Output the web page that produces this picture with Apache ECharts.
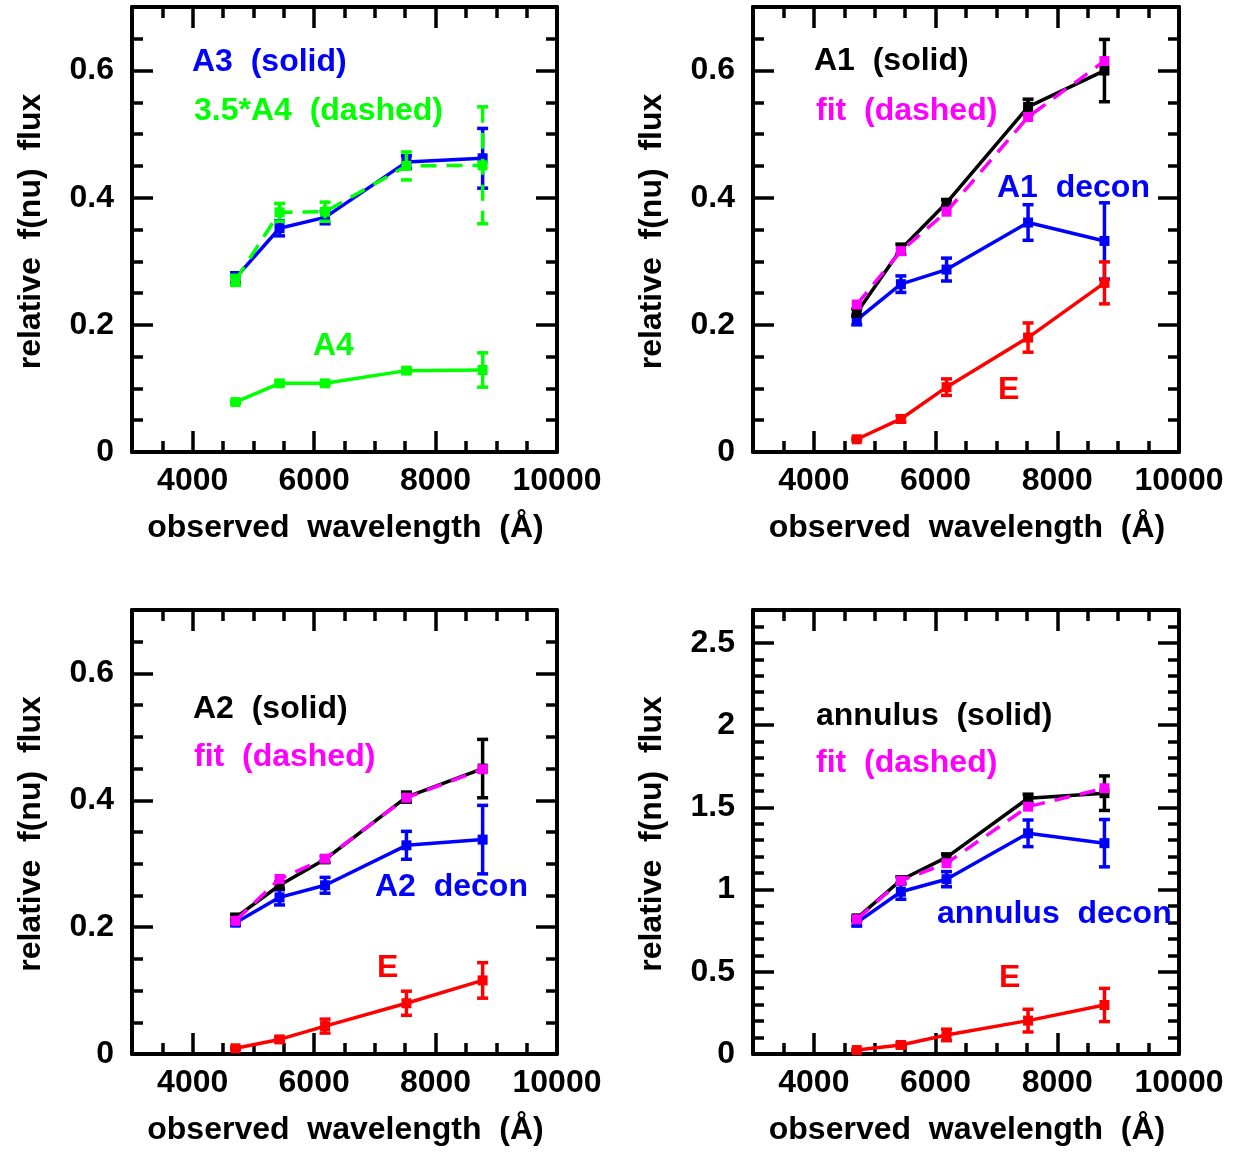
<!DOCTYPE html>
<html>
<head>
<meta charset="utf-8">
<script src="https://cdn.jsdelivr.net/npm/echarts@6/dist/echarts.min.js"></script>
<style>html,body{margin:0;padding:0;background:#fff;}#c{width:1241px;height:1152px;}</style>
</head>
<body>
<div id="c"></div>
<script>
// ---- data ----
const wavelengths = [4705, 5430, 6180, 7520, 8775];
const xTickLabels = [4000, 6000, 8000, 10000];
const yTickLabelsFlux = [0, 0.2, 0.4, 0.6];
const yTickLabelsAnnulus = [0, 0.5, 1, 1.5, 2, 2.5];

// panel 1
const a3 = [0.274, 0.352, 0.369, 0.456, 0.462];
const a3Err = [0.008, 0.012, 0.010, 0.010, 0.047];
const a4x35 = [0.270, 0.377, 0.378, 0.450, 0.451];
const a4x35Err = [0.008, 0.014, 0.015, 0.022, 0.092];
const a4 = [0.0785, 0.108, 0.108, 0.128, 0.129];
const a4Err = [0.002, 0.003, 0.003, 0.004, 0.027];
// panel 2
const a1 = [0.219, 0.319, 0.392, 0.543, 0.600];
const a1Err = [0.006, 0.008, 0.005, 0.012, 0.049];
const a1Fit = [0.232, 0.316, 0.378, 0.527, 0.615];
const a1Decon = [0.208, 0.264, 0.287, 0.361, 0.332];
const a1DeconErr = [0.008, 0.013, 0.018, 0.028, 0.060];
const e1 = [0.020, 0.052, 0.102, 0.180, 0.266];
const e1Err = [0.002, 0.005, 0.013, 0.023, 0.033];
// panel 3
const a2 = [0.215, 0.266, 0.307, 0.405, 0.450];
const a2Err = [0.005, 0.005, 0.005, 0.008, 0.046];
const a2Fit = [0.210, 0.276, 0.308, 0.404, 0.449];
const a2Decon = [0.207, 0.247, 0.266, 0.329, 0.338];
const a2DeconErr = [0.004, 0.012, 0.0125, 0.022, 0.054];
const e2 = [0.009, 0.023, 0.044, 0.080, 0.116];
const e2Err = [0.002, 0.004, 0.011, 0.019, 0.028];
// panel 4
const annulus = [0.825, 1.058, 1.196, 1.555, 1.586];
const annulusErr = [0.015, 0.020, 0.020, 0.025, 0.105];
const annulusFit = [0.819, 1.054, 1.160, 1.504, 1.616];
const annulusDecon = [0.799, 0.987, 1.063, 1.342, 1.282];
const annulusDeconErr = [0.020, 0.046, 0.046, 0.081, 0.144];
const e3 = [0.024, 0.055, 0.116, 0.203, 0.298];
const e3Err = [0.005, 0.015, 0.035, 0.069, 0.101];

// ---- styling ----
const FONT = '"Liberation Sans", Arial, sans-serif';
const FS = 32;
const BLUE = '#0000ff', GREEN = '#00ff00', MAG = '#ff00ff', RED = '#ff0000', BLACK = '#000000';
const DASH = [16, 10];
const LW = 3.5;

const grids = [
  {left: 132, top: 7, width: 425, height: 445},
  {left: 753, top: 7, width: 426, height: 445},
  {left: 132, top: 610, width: 425, height: 444},
  {left: 753, top: 610, width: 426, height: 444}
];
const yCfg = [
  {max: 0.7, minor: 0.05, major: yTickLabelsFlux},
  {max: 0.7, minor: 0.05, major: yTickLabelsFlux},
  {max: 0.7, minor: 0.05, major: yTickLabelsFlux},
  {max: 2.7, minor: 0.1, major: yTickLabelsAnnulus}
];

const lineStyleAxis = {color: '#000', width: 4};
const tickStyle = {color: '#000', width: 3.5};
const labelStyle = {fontSize: FS, fontWeight: 'bold', fontFamily: FONT, color: '#000'};

const xAxis = [], yAxis = [];
grids.forEach((g, i) => {
  const bx = {gridIndex: i, type: 'value', min: 3000, max: 10000, splitLine: {show: false}};
  xAxis.push(
    Object.assign({}, bx, {position: 'bottom', axisLine: {show: true, onZero: false, lineStyle: lineStyleAxis},
      axisTick: {inside: true, length: 21, lineStyle: tickStyle, customValues: xTickLabels},
      axisLabel: Object.assign({customValues: xTickLabels, margin: 13, formatter: v => String(Math.round(v))}, labelStyle)}),
    Object.assign({}, bx, {position: 'bottom', interval: 500, axisLine: {show: false, onZero: false},
      axisTick: {inside: true, length: 11, lineStyle: tickStyle}, axisLabel: {show: false}}),
    Object.assign({}, bx, {position: 'top', axisLine: {show: true, onZero: false, lineStyle: lineStyleAxis},
      axisTick: {inside: true, length: 21, lineStyle: tickStyle, customValues: xTickLabels}, axisLabel: {show: false}}),
    Object.assign({}, bx, {position: 'top', interval: 500, axisLine: {show: false, onZero: false},
      axisTick: {inside: true, length: 11, lineStyle: tickStyle}, axisLabel: {show: false}})
  );
  const c = yCfg[i];
  const by = {gridIndex: i, type: 'value', min: 0, max: c.max, splitLine: {show: false}};
  yAxis.push(
    Object.assign({}, by, {position: 'left', axisLine: {show: true, onZero: false, lineStyle: lineStyleAxis},
      axisTick: {inside: true, length: 21, lineStyle: tickStyle, customValues: c.major},
      axisLabel: Object.assign({customValues: c.major, margin: 18, formatter: v => String(+v.toFixed(2))}, labelStyle)}),
    Object.assign({}, by, {position: 'left', interval: c.minor, axisLine: {show: false, onZero: false},
      axisTick: {inside: true, length: 11, lineStyle: tickStyle}, axisLabel: {show: false}}),
    Object.assign({}, by, {position: 'right', axisLine: {show: true, onZero: false, lineStyle: lineStyleAxis},
      axisTick: {inside: true, length: 21, lineStyle: tickStyle, customValues: c.major}, axisLabel: {show: false}}),
    Object.assign({}, by, {position: 'right', interval: c.minor, axisLine: {show: false, onZero: false},
      axisTick: {inside: true, length: 11, lineStyle: tickStyle}, axisLabel: {show: false}})
  );
});

function lineSeries(p, ys, color, dashed, z) {
  return {
    type: 'line', xAxisIndex: 4 * p, yAxisIndex: 4 * p, z: z, silent: true, animation: false,
    data: wavelengths.map((w, i) => [w, ys[i]]),
    symbol: 'rect', symbolSize: 10, showSymbol: true,
    lineStyle: {color: color, width: LW, type: dashed ? DASH : 'solid'},
    itemStyle: {color: color}
  };
}
function errSeries(p, ys, errs, color, dashed, z) {
  return {
    type: 'custom', xAxisIndex: 4 * p, yAxisIndex: 4 * p, z: z, silent: true, animation: false,
    data: wavelengths.map((w, i) => [w, ys[i], errs[i]]),
    encode: {x: 0, y: 1},
    renderItem: function (params, api) {
      const x = api.value(0), y = api.value(1), e = api.value(2);
      const t = api.coord([x, y + e]), b = api.coord([x, y - e]);
      const hw = 5.5;
      return {
        type: 'group',
        children: [
          {type: 'line', shape: {x1: t[0], y1: t[1], x2: b[0], y2: b[1]},
            style: {stroke: color, lineWidth: LW, lineDash: dashed ? DASH : null}},
          {type: 'line', shape: {x1: t[0] - hw, y1: t[1], x2: t[0] + hw, y2: t[1]},
            style: {stroke: color, lineWidth: LW}},
          {type: 'line', shape: {x1: b[0] - hw, y1: b[1], x2: b[0] + hw, y2: b[1]},
            style: {stroke: color, lineWidth: LW}}
        ]
      };
    }
  };
}

const series = [
  // panel 1
  lineSeries(0, a3, BLUE, false, 3), errSeries(0, a3, a3Err, BLUE, false, 3),
  lineSeries(0, a4x35, GREEN, true, 4), errSeries(0, a4x35, a4x35Err, GREEN, true, 4),
  lineSeries(0, a4, GREEN, false, 3), errSeries(0, a4, a4Err, GREEN, false, 3),
  // panel 2
  lineSeries(1, a1Decon, BLUE, false, 3), errSeries(1, a1Decon, a1DeconErr, BLUE, false, 3),
  lineSeries(1, e1, RED, false, 3), errSeries(1, e1, e1Err, RED, false, 3),
  lineSeries(1, a1, BLACK, false, 3), errSeries(1, a1, a1Err, BLACK, false, 3),
  lineSeries(1, a1Fit, MAG, true, 4),
  // panel 3
  lineSeries(2, a2Decon, BLUE, false, 3), errSeries(2, a2Decon, a2DeconErr, BLUE, false, 3),
  lineSeries(2, e2, RED, false, 3), errSeries(2, e2, e2Err, RED, false, 3),
  lineSeries(2, a2, BLACK, false, 3), errSeries(2, a2, a2Err, BLACK, false, 3),
  lineSeries(2, a2Fit, MAG, true, 4),
  // panel 4
  lineSeries(3, annulusDecon, BLUE, false, 3), errSeries(3, annulusDecon, annulusDeconErr, BLUE, false, 3),
  lineSeries(3, e3, RED, false, 3), errSeries(3, e3, e3Err, RED, false, 3),
  lineSeries(3, annulus, BLACK, false, 3), errSeries(3, annulus, annulusErr, BLACK, false, 3),
  lineSeries(3, annulusFit, MAG, true, 4)
];

function txt(text, x, y, color, opts) {
  opts = opts || {};
  return {
    type: 'text', x: x, y: y, rotation: opts.rotation || 0, silent: true, z: 10,
    style: {text: text, fill: color, fontSize: FS, fontWeight: 'bold', fontFamily: FONT,
      align: opts.align || 'left', verticalAlign: 'middle'}
  };
}
const graphic = [
  txt('A3  (solid)', 192, 62, BLUE),
  txt('3.5*A4  (dashed)', 194, 111, GREEN),
  txt('A4', 313, 346, GREEN),
  txt('A1  (solid)', 814, 61, BLACK),
  txt('fit  (dashed)', 816, 111, MAG),
  txt('A1  decon', 997, 188, BLUE),
  txt('E', 998, 390, RED),
  txt('A2  (solid)', 193, 709, BLACK),
  txt('fit  (dashed)', 194, 757, MAG),
  txt('A2  decon', 375, 887, BLUE),
  txt('E', 377, 968, RED),
  txt('annulus  (solid)', 816, 716, BLACK),
  txt('fit  (dashed)', 816, 763, MAG),
  txt('annulus  decon', 937, 914, BLUE),
  txt('E', 999, 978, RED)
];
// axis titles
grids.forEach(g => {
  graphic.push(txt('observed  wavelength  (Å)', g.left + g.width / 2 + 1, g.top + g.height + 76, BLACK, {align: 'center'}));
  graphic.push(txt('relative  f(nu)  flux', g.left - 101, g.top + g.height / 2 + 2, BLACK, {align: 'center', rotation: Math.PI / 2}));
});

const chart = echarts.init(document.getElementById('c'), null, {renderer: 'canvas'});
chart.setOption({
  backgroundColor: '#ffffff',
  animation: false,
  grid: grids.map(g => Object.assign({show: false}, g)),
  xAxis: xAxis,
  yAxis: yAxis,
  series: series,
  graphic: graphic
});
</script>
</body>
</html>
